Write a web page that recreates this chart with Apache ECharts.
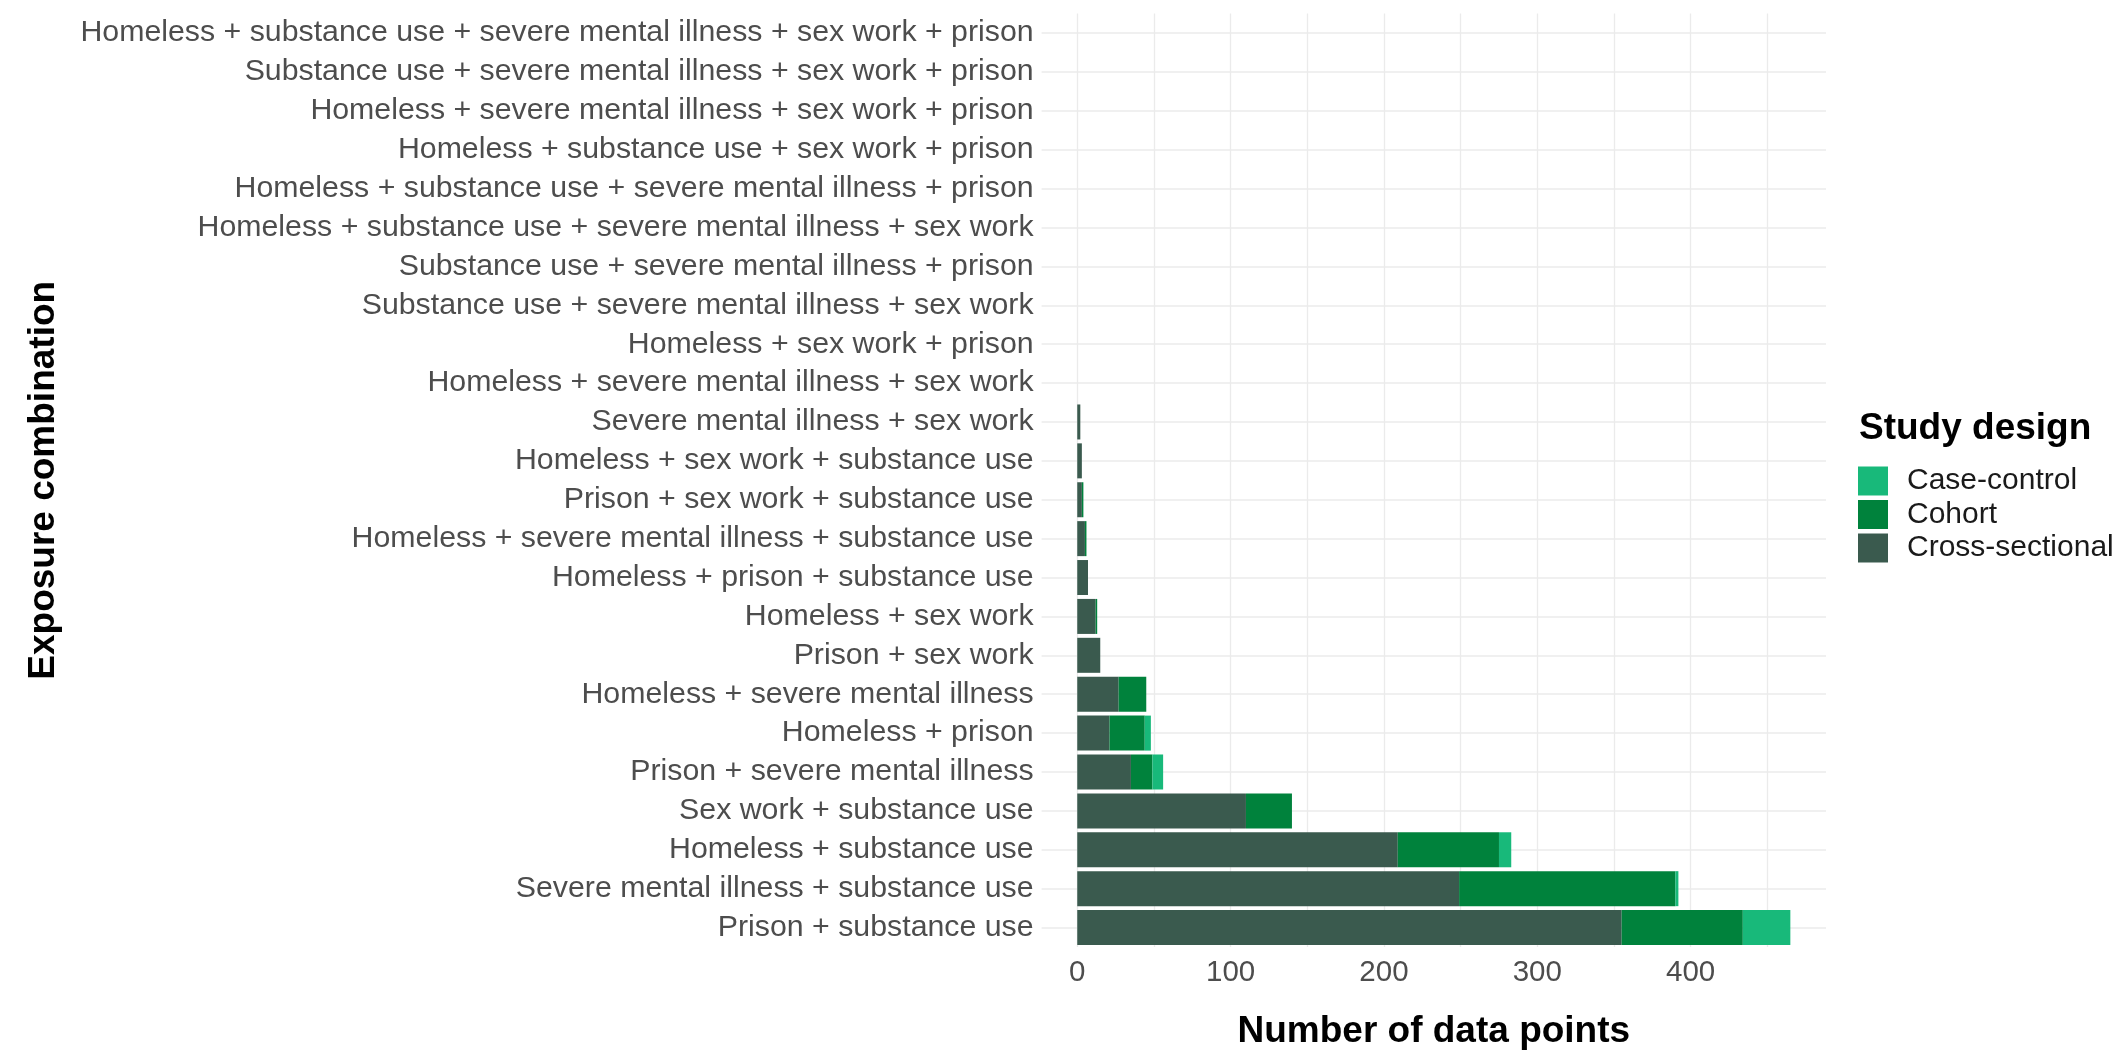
<!DOCTYPE html>
<html>
<head>
<meta charset="utf-8">
<script src="https://cdn.jsdelivr.net/npm/echarts@6/dist/echarts.min.js"></script>
<style>
  html, body { margin: 0; padding: 0; background: #ffffff; }
  #chart { width: 2114px; height: 1055px; }
</style>
</head>
<body>
<div id="chart"></div>
<script>
// Exposure combinations, listed from the bottom row of the chart to the top row
const categories = [
  'Prison + substance use',
  'Severe mental illness + substance use',
  'Homeless + substance use',
  'Sex work + substance use',
  'Prison + severe mental illness',
  'Homeless + prison',
  'Homeless + severe mental illness',
  'Prison + sex work',
  'Homeless + sex work',
  'Homeless + prison + substance use',
  'Homeless + severe mental illness + substance use',
  'Prison + sex work + substance use',
  'Homeless + sex work + substance use',
  'Severe mental illness + sex work',
  'Homeless + severe mental illness + sex work',
  'Homeless + sex work + prison',
  'Substance use + severe mental illness + sex work',
  'Substance use + severe mental illness + prison',
  'Homeless + substance use + severe mental illness + sex work',
  'Homeless + substance use + severe mental illness + prison',
  'Homeless + substance use + sex work + prison',
  'Homeless + severe mental illness + sex work + prison',
  'Substance use + severe mental illness + sex work + prison',
  'Homeless + substance use + severe mental illness + sex work + prison'
];

// Number of data points per study design (same order as categories)
const crossSectional = [355, 249, 209, 110, 35, 21, 27, 15, 12, 7, 5, 3, 3, 2, 0, 0, 0, 0, 0, 0, 0, 0, 0, 0];
const cohort         = [79, 141, 66, 30, 14, 23, 18, 0, 1, 0, 1, 1, 0, 0, 0, 0, 0, 0, 0, 0, 0, 0, 0, 0];
const caseControl    = [31, 2, 8, 0, 7, 4, 0, 0, 0, 0, 0, 0, 0, 0, 0, 0, 0, 0, 0, 0, 0, 0, 0, 0];

// Axis ticks
const xLabelTicks = [0, 100, 200, 300, 400];
const xGridTicks = [0, 50, 100, 150, 200, 250, 300, 350, 400, 450];

const designNames = ['Case-control', 'Cohort', 'Cross-sectional'];
const designColors = {
  'Case-control': '#18B97A',
  'Cohort': '#00823C',
  'Cross-sectional': '#3A5A4E'
};

const FONT = '"Liberation Sans", Arial, sans-serif';

// ggplot-style 5% padding on either side of the value range
const maxTotal = Math.max(...categories.map((_, i) => crossSectional[i] + cohort[i] + caseControl[i]));
const pad = maxTotal * 0.05;

function barSeries(name, values) {
  return {
    name: name,
    type: 'bar',
    stack: 'total',
    barCategoryGap: '10%',
    data: values,
    itemStyle: { color: designColors[name] },
    emphasis: { disabled: true }
  };
}

const chart = echarts.init(document.getElementById('chart'), null, { renderer: 'canvas' });

chart.setOption({
  backgroundColor: '#ffffff',
  animation: false,
  textStyle: { fontFamily: FONT },
  title: {
    text: 'Study design',
    left: 1854,
    top: 405,
    textStyle: { fontFamily: FONT, fontSize: 37, fontWeight: 'bold', color: '#000000' }
  },
  legend: {
    data: designNames,
    orient: 'vertical',
    left: 1853,
    top: 461,
    itemWidth: 30,
    itemHeight: 29,
    itemGap: 3.5,
    icon: 'rect',
    selectedMode: false,
    textStyle: { fontFamily: FONT, fontSize: 30, color: '#1a1a1a', padding: [0, 0, 0, 14] }
  },
  grid: {
    left: 1041.6,
    right: 2114 - 1826,
    top: 13.6,
    bottom: 1055 - 950,
    containLabel: false
  },
  xAxis: {
    type: 'value',
    min: -pad,
    max: maxTotal + pad,
    name: 'Number of data points',
    nameLocation: 'middle',
    nameGap: 66,
    nameTextStyle: { fontFamily: FONT, fontSize: 37, fontWeight: 'bold', color: '#000000' },
    axisLine: { show: false },
    axisTick: { show: false, customValues: xGridTicks },
    axisLabel: {
      customValues: xLabelTicks,
      fontFamily: FONT,
      fontSize: 29.5,
      color: '#4D4D4D',
      margin: 11
    },
    splitLine: { show: true, lineStyle: { color: '#EBEBEB', width: 1.3 } }
  },
  yAxis: {
    type: 'category',
    data: categories,
    name: 'Exposure combination',
    nameLocation: 'middle',
    nameGap: 979,
    nameRotate: 90,
    nameTextStyle: { fontFamily: FONT, fontSize: 37, fontWeight: 'bold', color: '#000000' },
    axisLine: { show: false },
    axisTick: { show: false, alignWithLabel: true },
    axisLabel: {
      fontFamily: FONT,
      fontSize: 30.3,
      color: '#4D4D4D',
      margin: 8,
      interval: 0
    },
    splitLine: { show: true, alignWithLabel: true, lineStyle: { color: '#EBEBEB', width: 1.6 } }
  },
  series: [
    barSeries('Cross-sectional', crossSectional),
    barSeries('Cohort', cohort),
    barSeries('Case-control', caseControl)
  ]
});
</script>
</body>
</html>
